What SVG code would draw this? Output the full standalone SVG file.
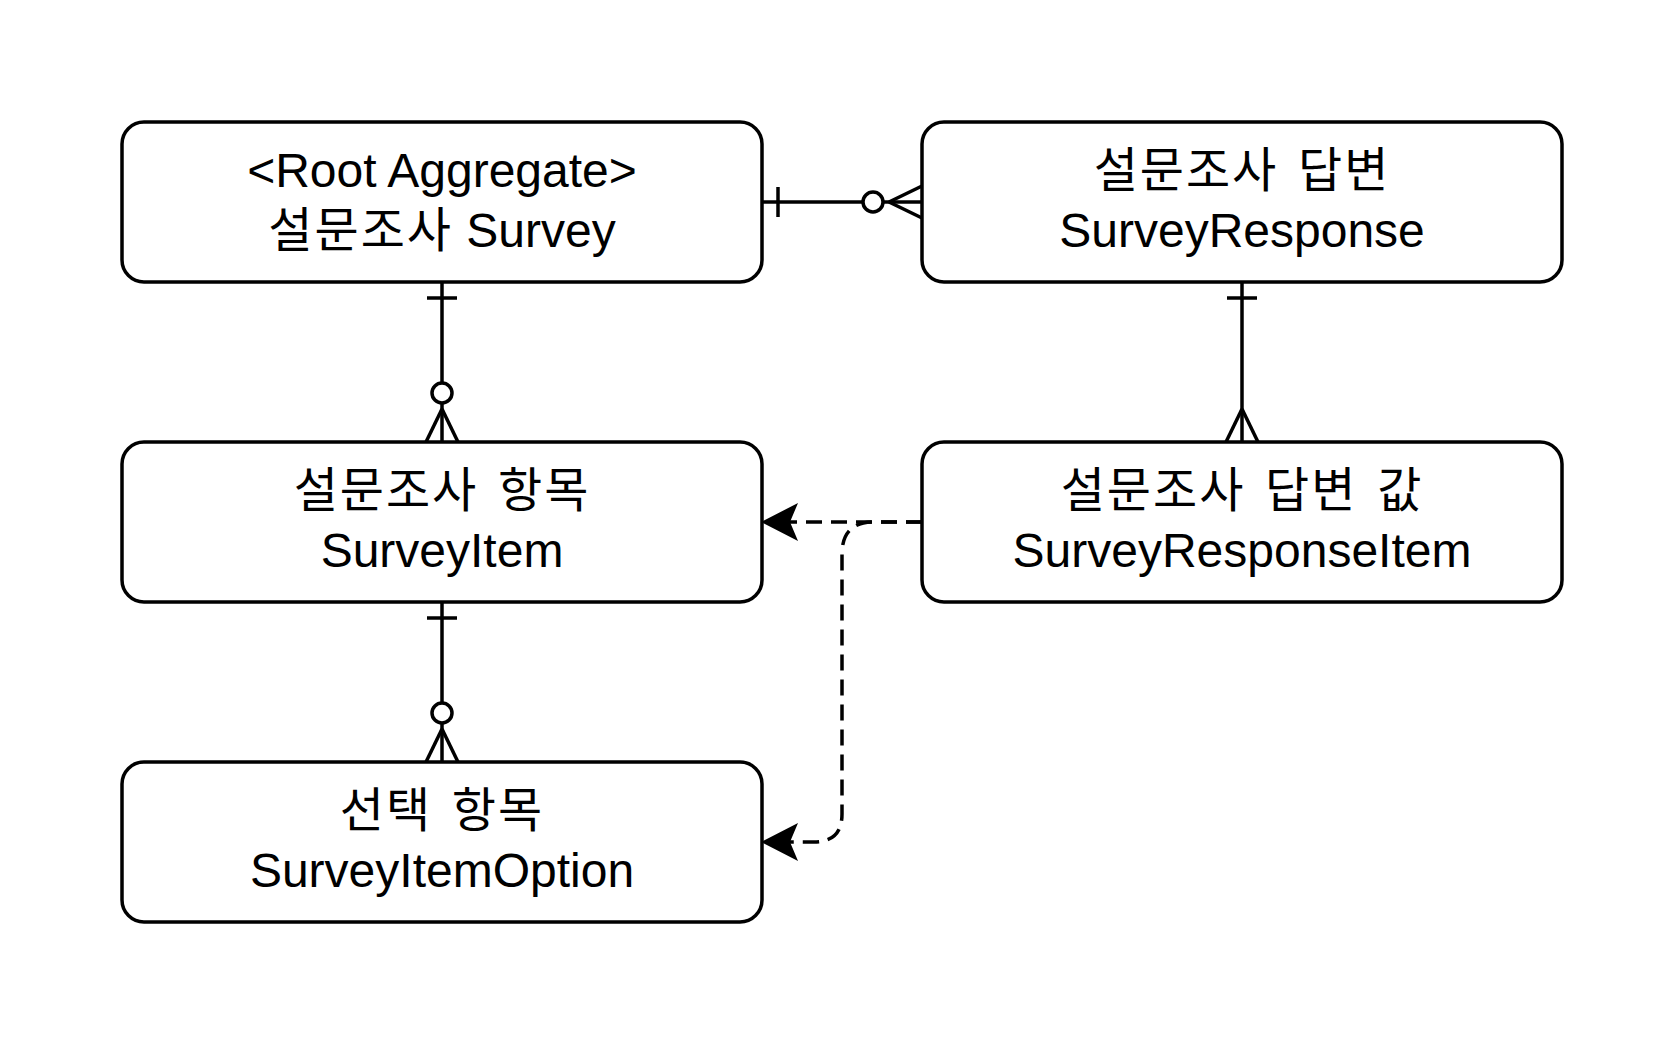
<svg xmlns="http://www.w3.org/2000/svg" width="1680" height="1040" viewBox="0 0 1680 1040">
<style>
.box{fill:#ffffff;stroke:#000000;stroke-width:3.5}
.ln{fill:none;stroke:#000000;stroke-width:3.5}
.dash{fill:none;stroke:#000000;stroke-width:3.5;stroke-dasharray:16 9}
.ring{fill:#ffffff;stroke:#000000;stroke-width:3.5}
.t{font-family:"Liberation Sans","Noto Sans CJK KR",sans-serif;font-size:48px;fill:#000000;text-anchor:middle}
.ko{font-family:"Noto Sans CJK KR","Liberation Sans",sans-serif;font-size:48px;letter-spacing:2px;word-spacing:7px}
</style>
<defs>
<marker id="arr" markerUnits="userSpaceOnUse" orient="auto" refX="0" refY="0" markerWidth="80" markerHeight="80" overflow="visible">
<path d="M 29 0 L -8 -19 L 0 0 L -8 19 Z" fill="#000000" stroke="none"/>
</marker>
</defs>
<rect width="1680" height="1040" fill="#ffffff"/>
<g id="connectors">
<g id="survey-response">
<line class="ln" x1="762" y1="202" x2="922" y2="202"/>
<line class="ln" x1="778" y1="187" x2="778" y2="217"/>
<line class="ln" x1="889" y1="202" x2="922" y2="186"/>
<line class="ln" x1="889" y1="202" x2="922" y2="218"/>
<circle class="ring" cx="873" cy="202" r="10"/>
</g>
<g id="survey-item">
<line class="ln" x1="442" y1="282" x2="442" y2="442"/>
<line class="ln" x1="427" y1="298" x2="457" y2="298"/>
<line class="ln" x1="442" y1="409" x2="426" y2="442"/>
<line class="ln" x1="442" y1="409" x2="458" y2="442"/>
<circle class="ring" cx="442" cy="393" r="10"/>
</g>
<g id="item-option">
<line class="ln" x1="442" y1="602" x2="442" y2="762"/>
<line class="ln" x1="427" y1="618" x2="457" y2="618"/>
<line class="ln" x1="442" y1="729" x2="426" y2="762"/>
<line class="ln" x1="442" y1="729" x2="458" y2="762"/>
<circle class="ring" cx="442" cy="713" r="10"/>
</g>
<g id="response-responseitem">
<line class="ln" x1="1242" y1="282" x2="1242" y2="442"/>
<line class="ln" x1="1227" y1="298" x2="1257" y2="298"/>
<line class="ln" x1="1242" y1="409" x2="1226" y2="442"/>
<line class="ln" x1="1242" y1="409" x2="1258" y2="442"/>
</g>
<path class="dash" d="M 922 522 L 790 522" marker-end="url(#arr)"/>
<path class="dash" d="M 922 522 L 874 522 Q 842 522 842 554 L 842 814 Q 842 842 814 842 L 790 842" marker-end="url(#arr)"/>
</g>
<g id="survey">
<rect class="box" x="122" y="122" width="640" height="160" rx="22" ry="22"/>
<text class="t" x="442" y="187">&lt;Root Aggregate&gt;</text>
<text class="t" x="442" y="247"><tspan class="ko">설문조사</tspan> Survey</text>
</g>
<g id="survey-response-node">
<rect class="box" x="922" y="122" width="640" height="160" rx="22" ry="22"/>
<text class="t" x="1242" y="187"><tspan class="ko">설문조사 답변</tspan></text>
<text class="t" x="1242" y="247">SurveyResponse</text>
</g>
<g id="survey-item-node">
<rect class="box" x="122" y="442" width="640" height="160" rx="22" ry="22"/>
<text class="t" x="442" y="507"><tspan class="ko">설문조사 항목</tspan></text>
<text class="t" x="442" y="567">SurveyItem</text>
</g>
<g id="survey-response-item-node">
<rect class="box" x="922" y="442" width="640" height="160" rx="22" ry="22"/>
<text class="t" x="1242" y="507"><tspan class="ko">설문조사 답변 값</tspan></text>
<text class="t" x="1242" y="567">SurveyResponseItem</text>
</g>
<g id="survey-item-option-node">
<rect class="box" x="122" y="762" width="640" height="160" rx="22" ry="22"/>
<text class="t" x="442" y="827"><tspan class="ko">선택 항목</tspan></text>
<text class="t" x="442" y="887">SurveyItemOption</text>
</g>
</svg>
